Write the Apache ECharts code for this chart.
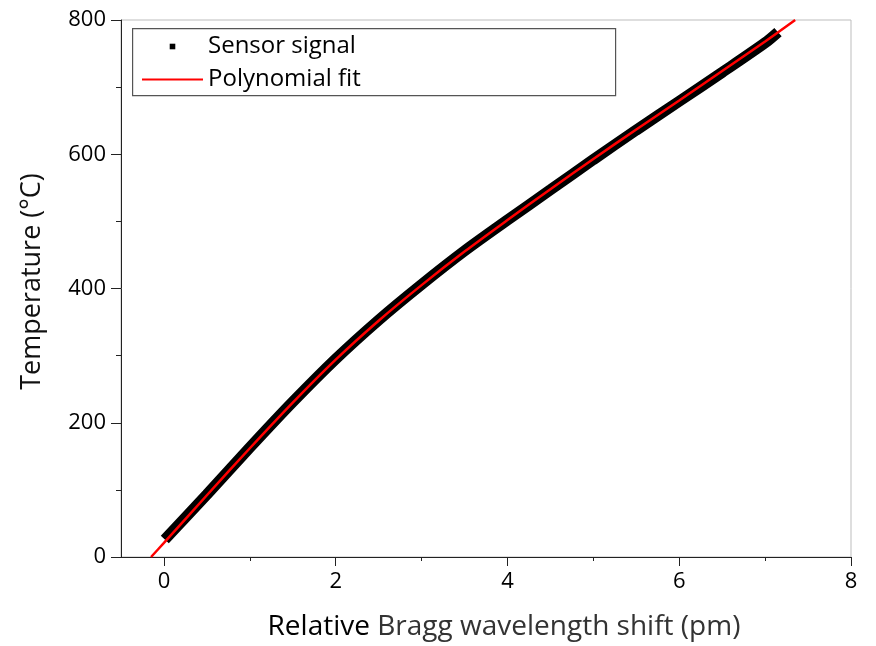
<!DOCTYPE html>
<html>
<head>
<meta charset="utf-8">
<title>Temperature vs Bragg shift</title>
<script src="https://cdn.jsdelivr.net/npm/echarts@6.0.0/dist/echarts.min.js"></script>
<style>
  html, body { margin: 0; padding: 0; background: #fff; }
  #chart { width: 876px; height: 646px; }
</style>
</head>
<body>
<div id="chart"></div>
<script>
// values
const sensorX = [0.01, 0.5, 1, 1.5, 2, 2.5, 3, 3.5, 4, 4.5, 5, 5.5, 6, 6.5, 7, 7.15];
const sensorT = [26, 93, 163, 231, 295, 353, 406, 456, 502, 547, 592, 636, 679, 722, 766, 782];
const fitX = [-0.15, 0, 0.5, 1, 1.5, 2, 2.5, 3, 3.5, 4, 4.5, 5, 5.5, 6, 6.5, 7, 7.35];
const fitT = [0, 21, 92, 162, 230, 294, 352, 405, 455, 502, 548, 593, 637, 680, 724, 768, 800];
const xMajor = [0, 2, 4, 6, 8];
const xMinor = [1, 3, 5, 7];

const font = "'Open Sans', 'Noto Sans', sans-serif";
const axisColor = "#222";

const chart = echarts.init(document.getElementById("chart"), null, { renderer: "canvas" });

chart.setOption({
  animation: false,
  backgroundColor: "#fff",
  textStyle: { fontFamily: font },
  grid: {
    left: 121,
    right: 25,
    top: 20,
    bottom: 89,
    containLabel: false,
    outerBoundsMode: "none",
    show: true,
    borderColor: "#bdbdbd",
    borderWidth: 1,
  },
  graphic: [
    {
      type: "rect",
      left: 132,
      top: 28,
      shape: { width: 483, height: 67 },
      style: { fill: "transparent", stroke: "#555", lineWidth: 1.2 },
      silent: true,
    },
  ],
  legend: {
    orient: "vertical",
    left: 141,
    top: 32,
    padding: 0,
    itemGap: 4,
    itemWidth: 61,
    itemHeight: 7,
    textStyle: { fontSize: 24, lineHeight: 29, color: "#000", fontFamily: font },
    selectedMode: false,
    data: [
      { name: "Sensor signal", lineStyle: { opacity: 0 }, itemStyle: { color: "#000" } },
      { name: "Polynomial fit", itemStyle: { opacity: 0 } },
    ],
  },
  xAxis: [
    {
      type: "value",
      min: -0.5,
      max: 8,
      name: "{a|Relative} {b|Bragg wavelength shift (pm)}",
      nameLocation: "middle",
      nameGap: 56,
      nameTextStyle: {
        fontSize: 28,
        padding: [0, 0, 0, 36],
        rich: {
          a: { fontSize: 28, color: "#000", fontFamily: font },
          b: { fontSize: 28, color: "#333", fontFamily: font },
        },
      },
      axisLine: { show: true, onZero: false, lineStyle: { color: axisColor, width: 1 } },
      axisTick: { show: true, inside: false, length: 9, customValues: xMajor, lineStyle: { color: axisColor } },
      axisLabel: { customValues: xMajor, fontSize: 22, color: "#000", margin: 14, fontFamily: font },
      splitLine: { show: false },
    },
    {
      type: "value",
      min: -0.5,
      max: 8,
      position: "bottom",
      axisLine: { show: false, onZero: false },
      axisTick: { show: true, inside: false, length: 4, customValues: xMinor, lineStyle: { color: axisColor } },
      axisLabel: { show: false },
      splitLine: { show: false },
    },
  ],
  yAxis: {
    type: "value",
    min: 0,
    max: 800,
    interval: 200,
    name: "Temperature (°C)",
    nameLocation: "middle",
    nameGap: 75,
    nameTextStyle: { fontSize: 27, color: "#111", padding: [0, 0, 0, 14], fontFamily: font },
    axisLine: { show: true, onZero: false, lineStyle: { color: axisColor, width: 1 } },
    axisTick: { show: true, inside: false, length: 10, lineStyle: { color: axisColor } },
    minorTick: { show: true, splitNumber: 2, length: 5, lineStyle: { color: axisColor } },
    axisLabel: { fontSize: 22, color: "#000", margin: 15, fontFamily: font },
    splitLine: { show: false },
  },
  series: [
    {
      name: "Sensor signal",
      type: "line",
      data: sensorX.map((x, i) => [x, sensorT[i]]),
      smooth: 0.3,
      symbol: "rect",
      showSymbol: false,
      itemStyle: { color: "#000" },
      lineStyle: { color: "#000", width: 11, cap: "butt" },
      emphasis: { disabled: true },
      silent: true,
      z: 2,
    },
    {
      name: "Polynomial fit",
      type: "line",
      data: fitX.map((x, i) => [x, fitT[i]]),
      smooth: 0.3,
      symbol: "none",
      itemStyle: { color: "#ff0000" },
      lineStyle: { color: "#ff0000", width: 2.5 },
      emphasis: { disabled: true },
      silent: true,
      z: 3,
    },
  ],
});
</script>
</body>
</html>
